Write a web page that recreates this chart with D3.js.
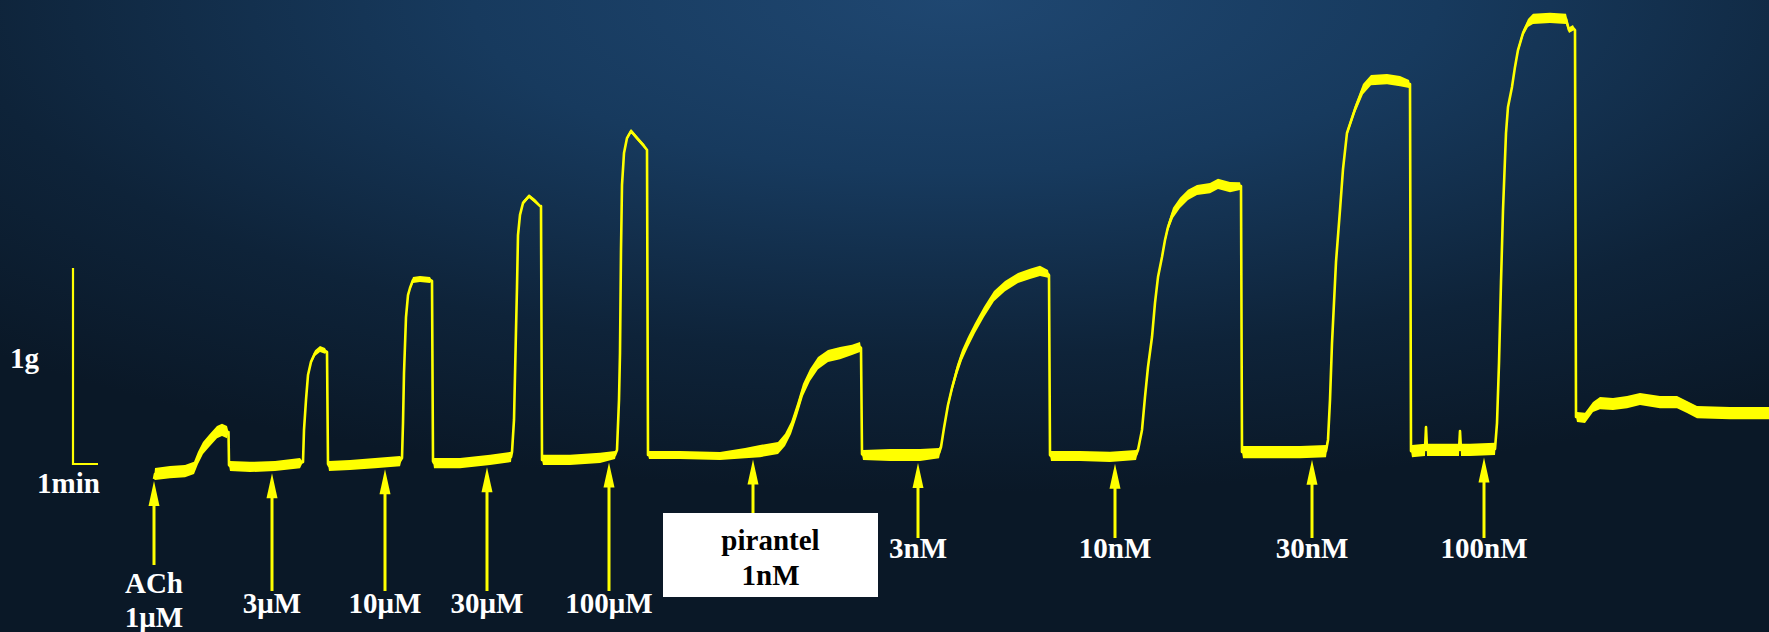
<!DOCTYPE html>
<html>
<head>
<meta charset="utf-8">
<script src="https://cdn.jsdelivr.net/npm/d3@7/dist/d3.min.js"></script>
<style>
  html, body { margin: 0; padding: 0; background: #0a1827; overflow: hidden; }
  svg { display: block; }
  text { font-family: "Liberation Serif", "DejaVu Serif", serif; font-weight: bold; }
</style>
</head>
<body>
<svg id="chart" width="1769" height="632"></svg>
<script>
// ---------------- DATA ----------------
// isometric tension trace: [time (min from ACh 1µM), tension (g), noise half-band (g)]
const trace = [
  [0, -0.020, 0], [0.04, 0.005, 0.031], [0.64, 0.015, 0.031], [1.24, 0.020, 0.031],
  [1.60, 0.036, 0.031], [1.76, 0.087, 0.031], [1.96, 0.138, 0.031], [2.24, 0.179, 0.031],
  [2.52, 0.219, 0.031], [2.72, 0.230, 0.031], [2.92, 0.219, 0.031], [2.98, 0.219, 0],
  [3.00, 0.051, 0],
  [3.04, 0.046, 0.026], [3.84, 0.041, 0.026], [4.84, 0.046, 0.026], [5.84, 0.061, 0.026],
  [5.96, 0.066, 0], [6.00, 0.230, 0], [6.08, 0.383, 0], [6.16, 0.510, 0.005],
  [6.28, 0.577, 0.010], [6.44, 0.622, 0.015], [6.64, 0.643, 0.015], [6.84, 0.633, 0.015],
  [6.92, 0.628, 0], [6.96, 0.056, 0],
  [7.00, 0.046, 0.026], [7.84, 0.051, 0.026], [8.84, 0.061, 0.026], [9.84, 0.071, 0.026],
  [9.92, 0.087, 0], [9.96, 0.265, 0], [10.00, 0.520, 0], [10.08, 0.806, 0],
  [10.16, 0.918, 0.005], [10.24, 0.954, 0.010], [10.36, 0.995, 0.015], [10.64, 1.000, 0.015],
  [11.04, 0.995, 0.015], [11.12, 0.990, 0], [11.16, 0.071, 0],
  [11.20, 0.061, 0.026], [12.24, 0.061, 0.026], [13.44, 0.077, 0.026], [14.28, 0.092, 0.026],
  [14.32, 0.117, 0], [14.40, 0.281, 0], [14.48, 0.740, 0], [14.52, 0.959, 0],
  [14.56, 1.224, 0], [14.64, 1.327, 0.005], [14.76, 1.388, 0.010], [15.00, 1.423, 0.010],
  [15.24, 1.398, 0.010], [15.44, 1.372, 0.005], [15.48, 1.372, 0], [15.52, 0.077, 0],
  [15.56, 0.077, 0.026], [16.64, 0.077, 0.026], [17.84, 0.087, 0.026], [18.44, 0.102, 0.020],
  [18.52, 0.128, 0], [18.60, 0.383, 0], [18.64, 0.622, 0], [18.68, 1.148, 0],
  [18.72, 1.480, 0], [18.80, 1.643, 0.005], [18.92, 1.719, 0.010], [19.08, 1.755, 0.010],
  [19.32, 1.719, 0.010], [19.60, 1.679, 0.010], [19.72, 1.658, 0], [19.76, 0.102, 0],
  [19.80, 0.102, 0.020], [21.04, 0.102, 0.020], [22.64, 0.097, 0.020], [23.64, 0.112, 0.026],
  [24.24, 0.122, 0.031], [24.96, 0.138, 0.031], [25.24, 0.179, 0.031], [25.48, 0.240, 0.031],
  [25.72, 0.332, 0.031], [25.96, 0.434, 0.031], [26.24, 0.510, 0.031], [26.56, 0.571, 0.031],
  [26.96, 0.607, 0.031], [27.44, 0.622, 0.031], [27.92, 0.638, 0.026], [28.24, 0.653, 0.026],
  [28.28, 0.648, 0], [28.32, 0.107, 0],
  [28.36, 0.102, 0.026], [29.44, 0.102, 0.031], [30.64, 0.102, 0.031], [31.40, 0.112, 0.026],
  [31.48, 0.143, 0.010], [31.60, 0.240, 0.010], [31.76, 0.357, 0.015], [31.92, 0.444, 0.020],
  [32.12, 0.536, 0.026], [32.32, 0.612, 0.026], [32.56, 0.679, 0.026], [32.84, 0.750, 0.026],
  [33.20, 0.832, 0.026], [33.60, 0.913, 0.026], [34.04, 0.964, 0.026], [34.56, 1.005, 0.026],
  [35.04, 1.026, 0.026], [35.44, 1.041, 0.026], [35.76, 1.026, 0.020], [35.80, 1.020, 0],
  [35.84, 0.102, 0],
  [35.88, 0.097, 0.026], [37.04, 0.097, 0.026], [38.24, 0.092, 0.026], [39.28, 0.102, 0.026],
  [39.36, 0.128, 0.010], [39.52, 0.230, 0.010], [39.64, 0.398, 0.010], [39.76, 0.551, 0.010],
  [39.92, 0.704, 0.010], [40.04, 0.878, 0.010], [40.16, 1.010, 0.015], [40.32, 1.112, 0.015],
  [40.44, 1.199, 0.015], [40.56, 1.265, 0.020], [40.76, 1.337, 0.026], [41.04, 1.388, 0.026],
  [41.36, 1.429, 0.026], [41.72, 1.454, 0.026], [42.24, 1.464, 0.026], [42.56, 1.485, 0.026],
  [43.04, 1.469, 0.026], [43.44, 1.474, 0.020], [43.48, 1.474, 0], [43.52, 0.117, 0],
  [43.56, 0.117, 0.031], [44.64, 0.117, 0.031], [45.84, 0.117, 0.031], [46.88, 0.122, 0.031],
  [46.96, 0.179, 0.010], [47.04, 0.383, 0.005], [47.12, 0.673, 0.005], [47.28, 1.087, 0.005],
  [47.44, 1.352, 0.010], [47.56, 1.561, 0.010], [47.72, 1.745, 0.015], [48.04, 1.867, 0.020],
  [48.36, 1.969, 0.026], [48.68, 2.015, 0.026], [49.32, 2.020, 0.026], [49.84, 2.010, 0.026],
  [50.20, 1.995, 0.020], [50.24, 1.995, 0], [50.28, 0.122, 0],
  [50.32, 0.122, 0.031], [50.84, 0.128, 0.031], [50.88, 0.245, 0], [50.92, 0.128, 0.031],
  [51.44, 0.128, 0.031], [52.20, 0.128, 0.031], [52.24, 0.224, 0], [52.28, 0.128, 0.031],
  [52.64, 0.128, 0.031], [53.64, 0.133, 0.031], [53.72, 0.265, 0.005], [53.80, 0.571, 0],
  [53.88, 0.985, 0], [53.96, 1.352, 0], [54.08, 1.745, 0.005], [54.16, 1.878, 0.005],
  [54.32, 1.980, 0.010], [54.44, 2.082, 0.010], [54.56, 2.168, 0.015], [54.76, 2.255, 0.015],
  [54.96, 2.306, 0.020], [55.16, 2.327, 0.026], [55.84, 2.332, 0.026], [56.48, 2.327, 0.026],
  [56.60, 2.270, 0.015], [56.76, 2.281, 0.015], [56.84, 2.270, 0], [56.88, 0.296, 0],
  [56.92, 0.296, 0.026], [57.24, 0.291, 0.026], [57.56, 0.347, 0.026], [57.84, 0.367, 0.031],
  [58.36, 0.362, 0.031], [58.92, 0.372, 0.031], [59.44, 0.388, 0.031], [60.24, 0.372, 0.031],
  [60.92, 0.372, 0.031], [61.32, 0.347, 0.031], [61.72, 0.321, 0.031], [63.04, 0.316, 0.031],
  [64.60, 0.316, 0.031]
];

// drug additions (time in min) and their labels
const injTimes  = [0, 4.72, 9.24, 13.32, 18.20, 23.96, 30.56, 38.44, 46.32, 53.20];
const injLabels = [["ACh", "1μM"], ["3μM"], ["10μM"], ["30μM"], ["100μM"],
                   ["pirantel", "1nM"], ["3nM"], ["10nM"], ["30nM"], ["100nM"]];
const injGroup  = ["ach", "uM", "uM", "uM", "uM", "box", "nM", "nM", "nM", "nM"];

// calibration bar
const scaleBarLabels = { tension: "1g", time: "1min" };
const scaleBarSize = { minutes: 1, grams: 1 };

// ---------------- DRAW ----------------
const W = 1769, H = 632;
const YEL = "#ffff00";
const svg = d3.select("#chart");

const defs = svg.append("defs");
const grad = defs.append("radialGradient").attr("id", "bg")
  .attr("cx", 0.54).attr("cy", 0.0).attr("r", 0.78);
[[0, "#1f4771"], [0.35, "#173a5e"], [0.72, "#0e2339"], [1, "#0a1827"]]
  .forEach(([o, c]) => grad.append("stop").attr("offset", o).attr("stop-color", c));
svg.append("rect").attr("width", W).attr("height", H).attr("fill", "url(#bg)");

const x = d3.scaleLinear().domain([0, 64.6]).range([154, 1769]);
const y = d3.scaleLinear().domain([0, 1]).range([475, 279]);

// noise band
const band = d3.area()
  .x(d => x(d[0]))
  .y0(d => y(d[1] - d[2]))
  .y1(d => y(d[1] + d[2]));
svg.append("path").datum(trace).attr("d", band).attr("fill", YEL);

const line = d3.line().x(d => x(d[0])).y(d => y(d[1]));
svg.append("path").datum(trace).attr("d", line)
  .attr("fill", "none").attr("stroke", YEL).attr("stroke-width", 2.6)
  .attr("stroke-linejoin", "round");

// calibration bar
const sbX = 73, sbY = 464;
const sbW = x(scaleBarSize.minutes) - x(0);
const sbH = y(0) - y(scaleBarSize.grams);
svg.append("path")
  .attr("d", `M${sbX},${sbY - sbH}L${sbX},${sbY}L${sbX + sbW},${sbY}`)
  .attr("fill", "none").attr("stroke", YEL).attr("stroke-width", 2.2);
svg.append("text").attr("x", 10).attr("y", 368).attr("fill", "#fff")
  .attr("font-size", 29).text(scaleBarLabels.tension);
svg.append("text").attr("x", 37).attr("y", 493).attr("fill", "#fff")
  .attr("font-size", 29).text(scaleBarLabels.time);

// interpolate trace bottom edge at time t
function traceBottom(t) {
  const i = d3.bisector(d => d[0]).right(trace, t);
  const a = trace[Math.max(0, i - 1)], b = trace[Math.min(trace.length - 1, i)];
  const f = b[0] === a[0] ? 0 : (t - a[0]) / (b[0] - a[0]);
  const g = a[1] + (b[1] - a[1]) * f, n = a[2] + (b[2] - a[2]) * f;
  return y(g - n);
}

const bottoms = { ach: 565, uM: 591, box: 513, nM: 538 };
const labelY  = { ach: [593, 627], uM: [613], box: [550, 585], nM: [558] };

injTimes.forEach((t, i) => {
  const gx = x(t);
  const grp = injGroup[i];
  const tip = traceBottom(t) + 2;
  const g = svg.append("g");
  g.append("line").attr("x1", gx).attr("x2", gx)
    .attr("y1", tip + 18).attr("y2", bottoms[grp])
    .attr("stroke", YEL).attr("stroke-width", 3);
  g.append("path")
    .attr("d", `M${gx},${tip}L${gx - 5.5},${tip + 25}L${gx + 5.5},${tip + 25}Z`)
    .attr("fill", YEL);

  if (grp === "box") {
    const bx = gx - 90, bw = 215;
    g.append("rect").attr("x", bx).attr("y", bottoms.box)
      .attr("width", bw).attr("height", 84).attr("fill", "#ffffff");
    injLabels[i].forEach((s, k) => {
      g.append("text").attr("x", bx + bw / 2).attr("y", labelY.box[k])
        .attr("text-anchor", "middle").attr("fill", "#000").attr("font-size", 29).text(s);
    });
  } else {
    injLabels[i].forEach((s, k) => {
      g.append("text").attr("x", gx).attr("y", labelY[grp][k])
        .attr("text-anchor", "middle").attr("fill", "#fff").attr("font-size", 29).text(s);
    });
  }
});
</script>
</body>
</html>
